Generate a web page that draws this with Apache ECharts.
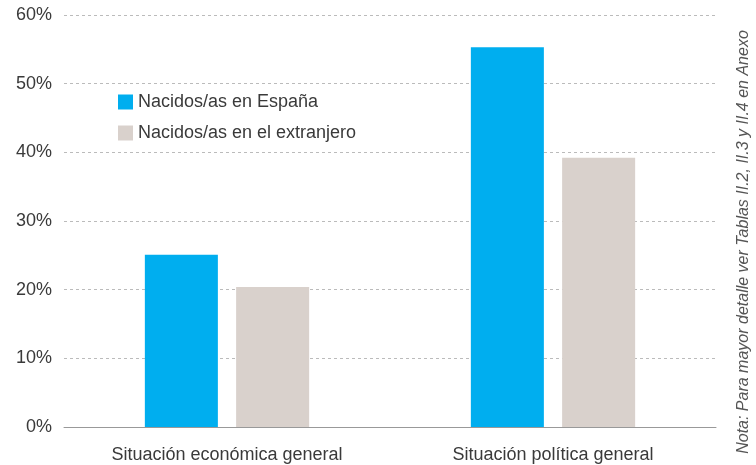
<!DOCTYPE html>
<html>
<head>
<meta charset="utf-8">
<script src="https://cdn.jsdelivr.net/npm/echarts@6/dist/echarts.min.js"></script>
<style>
  html, body { margin: 0; padding: 0; background: #fff; }
  #chart { width: 756px; height: 465px; }
</style>
</head>
<body>
<div id="chart"></div>
<script>
  // categorias y valores (%)
  const categories = ['Situación económica general', 'Situación política general']
  const espana = [25.1, 55.3]
  const extranjero = [20.4, 39.2]
  const yTicks = [0, 10, 20, 30, 40, 50, 60]

  const font = '"Liberation Sans", Arial, sans-serif'
  const chart = echarts.init(document.getElementById('chart'))
  const option = {
    animation: false,
    textStyle: { fontFamily: font },
    grid: { left: 64, right: 40, top: 15, bottom: 38 },
    legend: {
      left: 113,
      top: 88,
      orient: 'vertical',
      itemWidth: 15,
      itemHeight: 15,
      itemGap: 13,
      icon: 'rect',
      textStyle: { fontSize: 18, color: '#3a3a3a', fontFamily: font },
      data: ['Nacidos/as en España', 'Nacidos/as en el extranjero']
    },
    xAxis: {
      type: 'category',
      data: categories,
      axisLine: { lineStyle: { color: '#999', width: 1 } },
      axisTick: { show: false },
      axisLabel: { fontSize: 18, color: '#3a3a3a', margin: 19 }
    },
    yAxis: {
      type: 'value',
      min: yTicks[0],
      max: yTicks[yTicks.length - 1],
      interval: 10,
      axisLine: { show: false },
      axisTick: { show: false },
      axisLabel: { fontSize: 18, color: '#3a3a3a', margin: 12, formatter: '{value}%' },
      splitLine: { lineStyle: { color: '#bbb', type: [3, 3] } }
    },
    series: [
      {
        name: 'Nacidos/as en España',
        type: 'bar',
        data: espana,
        barWidth: '22.4%',
        barGap: '25%',
        itemStyle: { color: '#00aeef' }
      },
      {
        name: 'Nacidos/as en el extranjero',
        type: 'bar',
        data: extranjero,
        barWidth: '22.4%',
        itemStyle: { color: '#d9d1cc' }
      }
    ],
    graphic: [{
      type: 'text',
      x: 744,
      y: 242,
      rotation: Math.PI / 2,
      style: {
        text: 'Nota: Para mayor detalle ver Tablas II.2, II.3 y II.4 en Anexo',
        fontSize: 16,
        fontStyle: 'italic',
        fontFamily: font,
        fill: '#555',
        align: 'center',
        verticalAlign: 'middle'
      }
    }]
  }
  chart.setOption(option)
</script>
</body>
</html>
